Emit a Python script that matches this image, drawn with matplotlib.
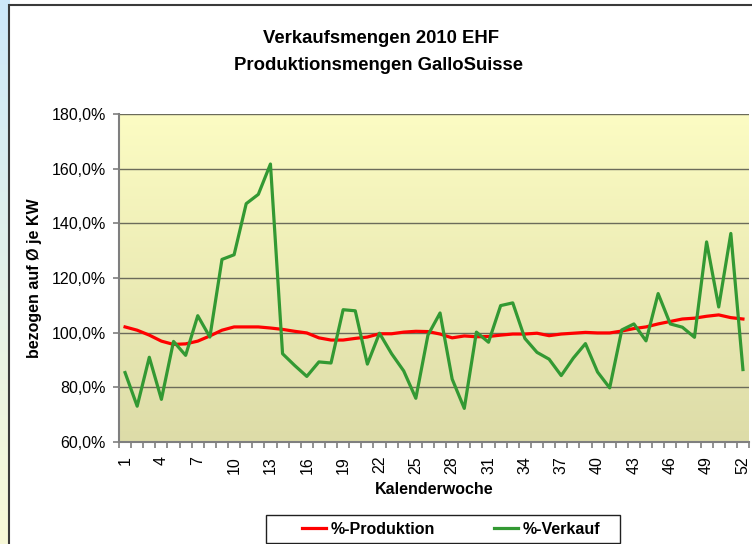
import numpy as np
import matplotlib
matplotlib.use("Agg")
import matplotlib.pyplot as plt
from matplotlib.patches import Rectangle
from matplotlib.ticker import FixedLocator, FuncFormatter

plt.rcParams['font.family'] = ['Liberation Sans', 'DejaVu Sans']

weeks = list(range(1, 53))
produktion = [102.1, 100.9, 99.1, 96.9, 95.7, 95.9, 96.9, 98.8, 100.9, 102.1, 102.1, 102.1, 101.7,
              101.2, 100.5, 99.9, 98.1, 97.3, 97.3, 97.9, 98.4, 99.6, 99.6,
              100.2, 100.5, 100.4, 99.5, 98.1, 98.8, 98.5, 98.6, 99.1, 99.5,
              99.5, 99.8, 98.9, 99.5, 99.8, 100.1, 99.9, 99.9, 100.6, 101.5,
              102.1, 103.2, 104.1, 105.0, 105.3, 106.0, 106.5, 105.5, 105.0]
verkauf = [85.4, 73.1, 91.0, 75.6, 96.8, 91.7, 106.2, 98.4, 126.8, 128.5, 147.2, 150.6, 161.7,
           92.3, 88.0, 84.0, 89.3, 88.9, 108.4, 108.0, 88.5, 99.8, 92.3,
           86.0, 76.0, 99.1, 107.2, 83.0, 72.3, 100.2, 96.5, 109.9, 110.9,
           97.9, 92.8, 90.3, 84.3, 90.7, 96.0, 85.6, 79.8, 101.0, 103.2,
           97.0, 114.3, 103.2, 102.0, 98.3, 133.2, 109.4, 136.3, 86.5]
xtick_labels = [str(w) for w in range(1, 53, 3)]
yticks = [60, 80, 100, 120, 140, 160, 180]

title1 = "Verkaufsmengen 2010 EHF"
title2 = "Produktionsmengen GalloSuisse"
ylabel = "bezogen auf Ø je KW"
xlabel = "Kalenderwoche"
series_names = ["%-Produktion", "%-Verkauf"]

W, H = 752, 544
fig = plt.figure(figsize=(W / 100, H / 100), dpi=100)
fig.patch.set_facecolor('white')

def fx(px):
    return px / W

def fy(py):
    return 1 - py / H

# left strip gradient background
bg = fig.add_axes([0, 0, 1, 1], zorder=-10)
bg.set_axis_off()
grad = np.linspace(0, 1, 256)[:, None]
top_c = np.array([205, 232, 250]) / 255
bot_c = np.array([248, 249, 215]) / 255
img = top_c[None, None, :] * (1 - grad[:, :, None]) + bot_c[None, None, :] * grad[:, :, None]
bg.imshow(img, extent=[0, fx(10), 0, 1], aspect='auto', transform=bg.transAxes)
bg.set_xlim(0, 1)
bg.set_ylim(0, 1)
# outer chart frame
bg.add_patch(Rectangle((fx(8.5), -0.1), 1.2, fy(5) + 0.1, transform=bg.transAxes,
                       facecolor='white', edgecolor='#3a3a3a', linewidth=1.5))

# plot area
L, R, T, B = 119, 749, 114, 442
ax = fig.add_axes([fx(L), fy(B), fx(R - L), (B - T) / H])
ax.set_xlim(0.5, 52.5)
ax.set_ylim(60, 180)

pgrad = np.linspace(0, 1, 256)[:, None]
ptop = np.array([252, 252, 195]) / 255
pbot = np.array([221, 220, 168]) / 255
pimg = ptop[None, None, :] * (1 - pgrad[:, :, None]) + pbot[None, None, :] * pgrad[:, :, None]
ax.imshow(pimg, extent=[0.5, 52.5, 60, 180], aspect='auto', zorder=0)

for yv in yticks[1:]:
    ax.axhline(yv, color='#6b6b5a', linewidth=1.0, zorder=1)

l1, = ax.plot(weeks, produktion, color='#ff0000', linewidth=2.3, zorder=3, solid_joinstyle='round')
l2, = ax.plot(weeks, verkauf, color='#339933', linewidth=2.3, zorder=4, solid_joinstyle='round')

for s in ['top', 'right']:
    ax.spines[s].set_visible(False)
for s in ['left', 'bottom']:
    ax.spines[s].set_color('#7f7f7f')
    ax.spines[s].set_linewidth(1.5)

ax.yaxis.set_major_locator(FixedLocator(yticks))
ax.yaxis.set_major_formatter(FuncFormatter(lambda v, p: f"{v:.1f}%".replace('.', ',')))
ax.tick_params(axis='y', which='major', direction='out', length=4, width=1.2,
               color='#7f7f7f', labelsize=11.5, pad=5.5)

ax.xaxis.set_major_locator(FixedLocator(list(range(1, 53, 3))))
ax.set_xticklabels(xtick_labels, rotation=90)
ax.xaxis.set_minor_locator(FixedLocator(np.arange(0.5, 53, 1.0)))
ax.tick_params(axis='x', which='major', length=0, labelsize=11.5, pad=10)
ax.tick_params(axis='x', which='minor', direction='out', length=4, width=1.2, color='#7f7f7f')

fig.text(fx(381), fy(43), title1, ha='center', va='baseline', fontsize=13.3, fontweight='bold')
fig.text(fx(378), fy(70), title2, ha='center', va='baseline', fontsize=13.3, fontweight='bold')
fig.text(fx(35), fy(278), ylabel, ha='center', va='center', rotation=90,
         fontsize=11.5, fontweight='bold')
fig.text(fx(434), fy(490), xlabel, ha='center', va='center', fontsize=11.5, fontweight='bold')

# legend
bg.add_patch(Rectangle((fx(266), fy(543)), fx(620 - 266), (543 - 515) / H, transform=bg.transAxes,
                       facecolor='white', edgecolor='#202020', linewidth=1.0, zorder=5))
leg = fig.legend([l1, l2], series_names, loc='center left', bbox_to_anchor=(fx(294), fy(529)),
                 ncol=2, frameon=False, borderpad=0, handlelength=1.5, handletextpad=0.3,
                 columnspacing=3.7, prop={'size': 11.5, 'weight': 'bold'})
leg.set_zorder(10)

fig.savefig('out.png', dpi=100)
